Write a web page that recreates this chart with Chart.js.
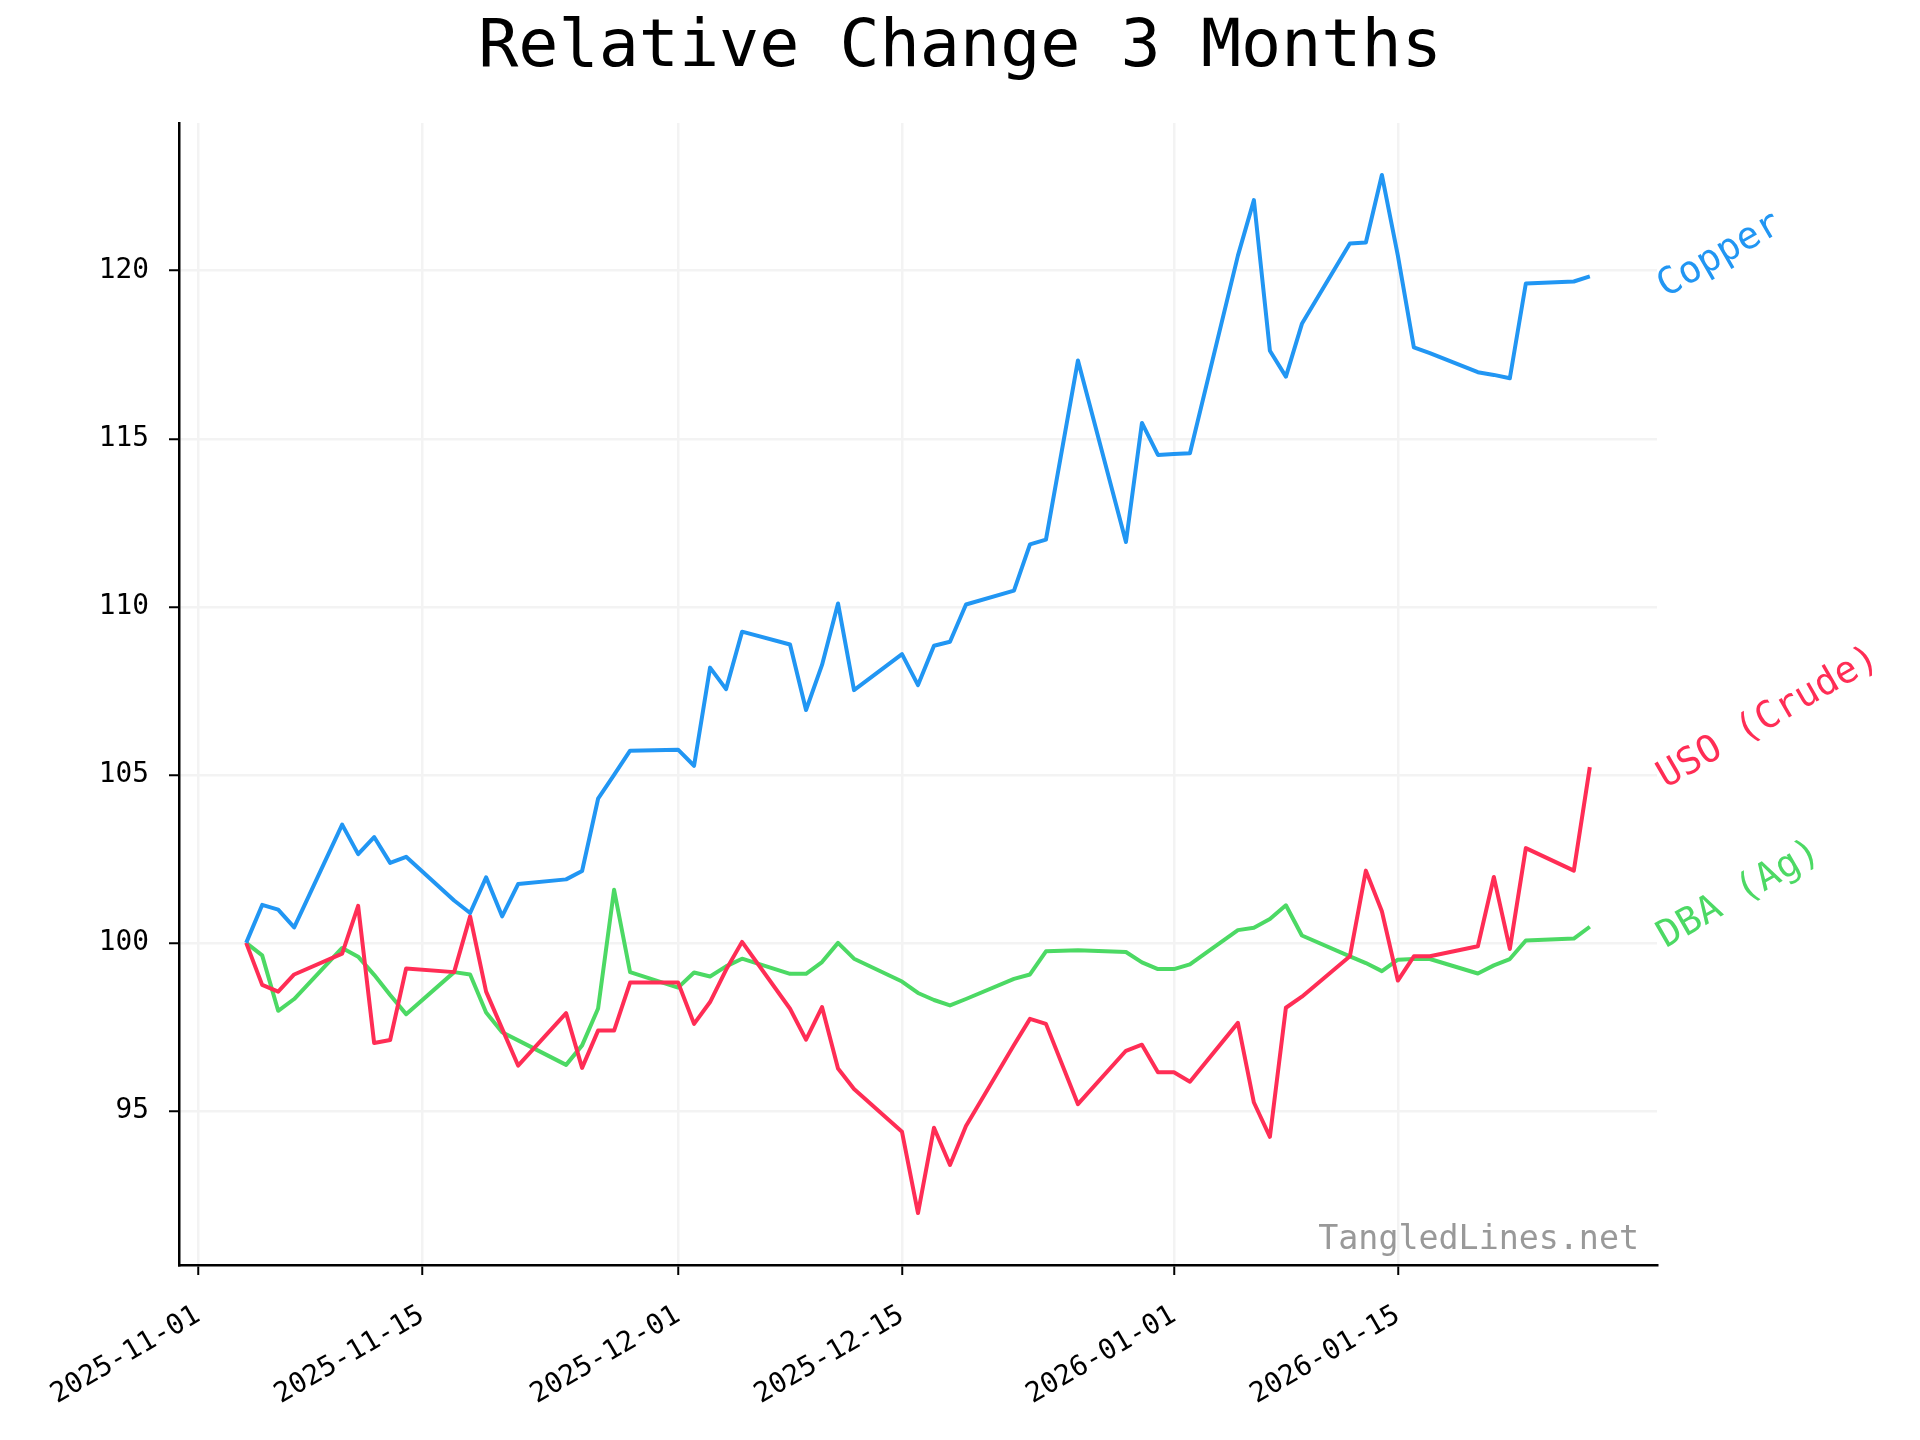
<!DOCTYPE html>
<html>
<head>
<meta charset="utf-8">
<title>Relative Change 3 Months</title>
<script src="https://cdn.jsdelivr.net/npm/chart.js@4.4.1/dist/chart.umd.min.js"></script>
<style>
  html, body { margin: 0; padding: 0; background: #ffffff; }
  canvas { display: block; }
</style>
</head>
<body>
<canvas id="relChart" width="1920" height="1440" style="width:1920px;height:1440px"></canvas>
<script>
// trading days shown in the chart
const dates = [
    '2025-11-04', '2025-11-05', '2025-11-06', '2025-11-07', '2025-11-10', '2025-11-11', '2025-11-12',
    '2025-11-13', '2025-11-14', '2025-11-17', '2025-11-18', '2025-11-19', '2025-11-20', '2025-11-21',
    '2025-11-24', '2025-11-25', '2025-11-26', '2025-11-27', '2025-11-28',
    '2025-12-01', '2025-12-02', '2025-12-03', '2025-12-04', '2025-12-05', '2025-12-08', '2025-12-09',
    '2025-12-10', '2025-12-11', '2025-12-12', '2025-12-15', '2025-12-16', '2025-12-17', '2025-12-18',
    '2025-12-19', '2025-12-22', '2025-12-23', '2025-12-24', '2025-12-26', '2025-12-29', '2025-12-30',
    '2025-12-31',
    '2026-01-01', '2026-01-02', '2026-01-05', '2026-01-06', '2026-01-07', '2026-01-08', '2026-01-09',
    '2026-01-12', '2026-01-13', '2026-01-14', '2026-01-15', '2026-01-16', '2026-01-17', '2026-01-20',
    '2026-01-21', '2026-01-22', '2026-01-23', '2026-01-26', '2026-01-27'
];

const copper = [
    100, 101.13, 100.99, 100.46, 103.52, 102.64, 103.15, 102.38, 102.56, 101.26, 100.89, 101.95, 100.79, 101.75,
    101.89, 102.14, 104.29, 105.0, 105.72,
    105.75, 105.27, 108.19, 107.55, 109.26, 108.88, 106.93, 108.27, 110.1, 107.52, 108.59, 107.67, 108.84, 108.96,
    110.07, 110.48, 111.86, 112.0, 117.33, 111.93, 115.47, 114.52,
    114.55, 114.57, 120.45, 122.1, 117.62, 116.85, 118.42, 120.81, 120.84, 122.85, 120.45, 117.72, 117.55, 116.98,
    116.9, 116.8, 119.62, 119.68, 119.83
];

const uso = [
    100, 98.75, 98.55, 99.06, 99.68, 101.1, 97.02, 97.11, 99.24, 99.13, 100.79, 98.55, 97.45, 96.35,
    97.91, 96.28, 97.39, 97.39, 98.82,
    98.82, 97.59, 98.24, 99.2, 100.03, 98.04, 97.12, 98.09, 96.26, 95.65, 94.38, 91.96, 94.5, 93.39,
    94.55, 96.96, 97.74, 97.59, 95.2, 96.79, 96.97, 96.15,
    96.15, 95.87, 97.62, 95.25, 94.23, 98.07, 98.4, 99.6, 102.15, 100.94, 98.88, 99.6, 99.6, 99.9,
    101.96, 99.82, 102.82, 102.15, 105.23
];

const dba = [
    100, 99.63, 97.98, 98.33, 99.85, 99.59, 99.05, 98.45, 97.88, 99.13, 99.06, 97.93, 97.34, 97.1,
    96.37, 96.95, 98.05, 101.58, 99.13,
    98.67, 99.12, 99.0, 99.3, 99.53, 99.08, 99.08, 99.43, 100.0, 99.53, 98.85, 98.51, 98.3, 98.14,
    98.33, 98.93, 99.06, 99.75, 99.78, 99.73, 99.42, 99.22,
    99.22, 99.36, 100.38, 100.45, 100.71, 101.12, 100.22, 99.6, 99.4, 99.16, 99.5, 99.52, 99.52, 99.09,
    99.33, 99.52, 100.07, 100.13, 100.48
];

const seriesNames = ['Copper', 'USO (Crude)', 'DBA (Ag)'];
const seriesColors = ['#2196F3', '#FF2D55', '#4CD964'];
const yTickValues = [95, 100, 105, 110, 115, 120];
const xTickDates = ['2025-11-01', '2025-11-15', '2025-12-01', '2025-12-15', '2026-01-01', '2026-01-15'];

const MONO = '"DejaVu Sans Mono", "Liberation Mono", monospace';

// days since epoch, so the x axis is a plain linear scale
function dayNum(s) {
    const parts = s.split('-').map(Number);
    return Date.UTC(parts[0], parts[1] - 1, parts[2]) / 86400000;
}
function dayLabel(v) {
    return new Date(Math.round(v) * 86400000).toISOString().slice(0, 10);
}

const xs = dates.map(dayNum);
const allValues = copper.concat(uso, dba);
const xSpan = xs[xs.length - 1] - xs[0];
const yLo = Math.min(...allValues), yHi = Math.max(...allValues);
const ySpan = yHi - yLo;

function toPoints(values) {
    return values.map((v, i) => ({ x: xs[i], y: v }));
}

// rotated series names at the right end + watermark
const endLabels = {
    id: 'endLabels',
    afterDatasetsDraw(chart) {
        const ctx = chart.ctx;
        const area = chart.chartArea;
        const yScale = chart.scales.y;
        ctx.save();
        chart.data.datasets.forEach((ds, i) => {
            const last = ds.data[ds.data.length - 1].y;
            const py = yScale.getPixelForValue(last);
            ctx.save();
            ctx.translate(area.right + 4, py + 13);
            ctx.rotate(-Math.PI / 6);
            ctx.font = '37.5px ' + MONO;
            ctx.fillStyle = seriesColors[i];
            ctx.textAlign = 'left';
            ctx.textBaseline = 'middle';
            ctx.fillText(seriesNames[i], 0, 0);
            ctx.restore();
        });
        ctx.font = '33.3px ' + MONO;
        ctx.fillStyle = '#999999';
        ctx.textAlign = 'right';
        ctx.textBaseline = 'alphabetic';
        ctx.fillText('TangledLines.net', area.right - 18, area.bottom - 16);
        ctx.restore();
    }
};

const ctx = document.getElementById('relChart').getContext('2d');

new Chart(ctx, {
    type: 'line',
    data: {
        datasets: [copper, uso, dba].map((vals, i) => ({
            label: seriesNames[i],
            data: toPoints(vals),
            borderColor: seriesColors[i],
            backgroundColor: seriesColors[i],
            borderWidth: 4,
            pointRadius: 0,
            tension: 0,
            borderJoinStyle: 'round',
            fill: false
        }))
    },
    options: {
        responsive: false,
        animation: false,
        devicePixelRatio: 1,
        layout: {
            padding: 0
        },
        plugins: {
            legend: { display: false },
            tooltip: { enabled: false },
            title: {
                display: true,
                text: 'Relative Change 3 Months',
                color: '#000000',
                font: { family: MONO, size: 66.7, weight: 'normal', lineHeight: 1.2 },
                padding: { top: 9, bottom: 34 }
            }
        },
        scales: {
            x: {
                type: 'linear',
                min: xs[0] - 0.05 * xSpan,
                max: xs[xs.length - 1] + 0.05 * xSpan,
                afterBuildTicks: axis => {
                    axis.ticks = xTickDates.map(d => ({ value: dayNum(d) }));
                },
                afterFit: scale => { scale.height = 175; },
                ticks: {
                    autoSkip: false,
                    minRotation: 30,
                    maxRotation: 30,
                    padding: 24,
                    color: '#000000',
                    font: { family: MONO, size: 27.8 },
                    callback: v => dayLabel(v)
                },
                grid: {
                    color: '#f3f3f3',
                    lineWidth: 2.5,
                    tickColor: '#000000',
                    tickWidth: 2,
                    tickLength: 10
                },
                border: { color: '#000000', width: 2.5 }
            },
            y: {
                type: 'linear',
                min: yLo - 0.05 * ySpan,
                max: yHi + 0.05 * ySpan,
                afterBuildTicks: axis => {
                    axis.ticks = yTickValues.map(v => ({ value: v }));
                },
                afterFit: scale => { scale.width = 179; },
                ticks: {
                    padding: 20,
                    color: '#000000',
                    font: { family: MONO, size: 27.8 },
                    callback: v => String(v)
                },
                grid: {
                    color: '#f3f3f3',
                    lineWidth: 2.5,
                    tickColor: '#000000',
                    tickWidth: 2,
                    tickLength: 10
                },
                border: { color: '#000000', width: 2.5 }
            },
            // empty right-hand box: keeps room for the end labels, title stays centred on the page
            yRight: {
                type: 'linear',
                position: 'right',
                afterFit: scale => { scale.width = 263; },
                ticks: { display: false },
                grid: { display: false },
                border: { display: false }
            }
        }
    },
    plugins: [endLabels]
});
</script>
</body>
</html>
